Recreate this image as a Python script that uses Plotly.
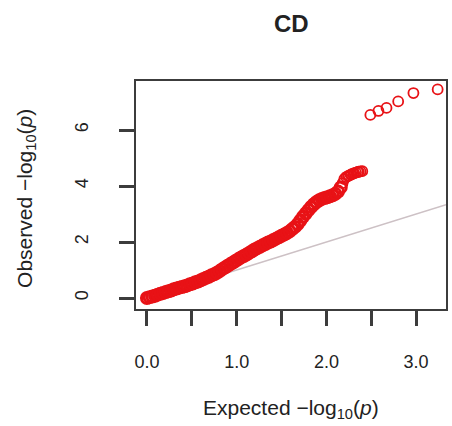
import plotly.graph_objects as go

# Q-Q plot of association p-values for CD
# bulk of the SNPs: a dense band of overlapping points
expected_bulk = [
    0.00, 0.03, 0.06, 0.09, 0.12, 0.15, 0.18, 0.21, 0.24, 0.27,
    0.30, 0.33, 0.36, 0.39, 0.42, 0.45, 0.48, 0.51, 0.54, 0.57,
    0.60, 0.63, 0.66, 0.69, 0.72, 0.75, 0.78, 0.81, 0.84, 0.87,
    0.90, 0.93, 0.96, 0.99, 1.02, 1.05, 1.08, 1.11, 1.14, 1.17,
    1.20, 1.23, 1.26, 1.29, 1.32, 1.35, 1.38, 1.41, 1.44, 1.47,
    1.50, 1.53, 1.56, 1.59, 1.62, 1.65, 1.68, 1.71, 1.74, 1.77,
    1.80, 1.83, 1.86, 1.89, 1.92, 1.95, 1.98, 2.01, 2.04, 2.07,
    2.10, 2.13, 2.16,
]
observed_bulk = [
    0.00, 0.03, 0.05, 0.08, 0.12, 0.15, 0.18, 0.21, 0.24, 0.27,
    0.31, 0.34, 0.37, 0.39, 0.42, 0.45, 0.49, 0.52, 0.56, 0.59,
    0.63, 0.68, 0.72, 0.76, 0.81, 0.85, 0.90, 0.96, 1.03, 1.09,
    1.15, 1.21, 1.27, 1.33, 1.39, 1.45, 1.50, 1.55, 1.61, 1.67,
    1.73, 1.78, 1.83, 1.88, 1.93, 1.98, 2.02, 2.07, 2.12, 2.17,
    2.22, 2.27, 2.32, 2.38, 2.46, 2.54, 2.64, 2.77, 2.90, 3.02,
    3.14, 3.25, 3.35, 3.43, 3.49, 3.54, 3.57, 3.60, 3.63, 3.67,
    3.72, 3.80, 3.95,
]
# the tail: points that start to stand apart
expected_tail = [2.18, 2.20, 2.22, 2.24, 2.25, 2.27, 2.28, 2.30, 2.31,
                 2.33, 2.35, 2.36, 2.38, 2.40,
                 2.49, 2.58, 2.67, 2.80, 2.97, 3.24]
observed_tail = [4.10, 4.25, 4.32, 4.35, 4.37, 4.40, 4.42, 4.44, 4.46,
                 4.48, 4.50, 4.51, 4.52, 4.53,
                 6.54, 6.68, 6.79, 7.02, 7.32, 7.45]

x_range = [-0.122, 3.333]
y_range = [-0.393, 7.75]
x_tickvals = [0.0, 1.0, 2.0, 3.0]
x_ticktext = ["0.0", "1.0", "2.0", "3.0"]
x_minor_tickvals = [0.5, 1.5, 2.5]
y_tickvals = [0, 2, 4, 6]
y_ticktext = ["0", "2", "4", "6"]

title_text = "<b>CD</b>"
x_title = "Expected \u2212log<sub>10</sub>(<i>p</i>)"
y_title = "Observed \u2212log<sub>10</sub>(<i>p</i>)"

FONT = "Liberation Sans, Arial, sans-serif"
AXIS_COLOR = "#3c3c3c"
RED = "rgb(232,18,22)"

fig = go.Figure()

# reference line y = x from the origin to the right edge
fig.add_trace(go.Scatter(
    x=[0, x_range[1]], y=[0, x_range[1]], mode="lines",
    line=dict(color="rgb(205,193,197)", width=1.6),
    hoverinfo="skip", showlegend=False,
))

fig.add_trace(go.Scatter(
    x=expected_bulk, y=observed_bulk, mode="markers",
    marker=dict(symbol="circle-open", size=11, color=RED,
                line=dict(width=3, color=RED)),
    showlegend=False,
))
fig.add_trace(go.Scatter(
    x=expected_tail, y=observed_tail, mode="markers",
    marker=dict(symbol="circle-open", size=10, color=RED,
                line=dict(width=1.8, color=RED)),
    showlegend=False,
))

axis_common = dict(
    showgrid=False, zeroline=False,
    showline=True, mirror=True, linecolor=AXIS_COLOR, linewidth=2,
    ticks="outside", ticklen=15, tickwidth=2.5, tickcolor=AXIS_COLOR,
    tickfont=dict(family=FONT, size=18, color="#222"),
)

fig.update_xaxes(range=x_range, tickmode="array", tickvals=x_tickvals,
                 ticktext=x_ticktext, ticklabelstandoff=20,
                 minor=dict(tickmode="array", tickvals=x_minor_tickvals,
                            ticks="outside", ticklen=15, tickwidth=2.5,
                            tickcolor=AXIS_COLOR, showgrid=False),
                 **axis_common)
fig.update_yaxes(range=y_range, tickmode="array", tickvals=y_tickvals,
                 ticktext=y_ticktext, tickangle=-90, ticklabelstandoff=24,
                 **axis_common)

fig.add_annotation(text=title_text, xref="paper", yref="paper",
                   x=0.5, y=(309 - 23) / 228, xanchor="center", yanchor="middle",
                   showarrow=False, font=dict(family=FONT, size=24, color="#222"))
fig.add_annotation(text=x_title, xref="paper", yref="paper",
                   x=0.5, y=-0.44, xanchor="center", yanchor="middle",
                   showarrow=False, font=dict(family=FONT, size=21, color="#222"))
fig.add_annotation(text=y_title, xref="paper", yref="paper",
                   x=-0.355, y=0.487, xanchor="center", yanchor="middle",
                   textangle=-90,
                   showarrow=False, font=dict(family=FONT, size=21, color="#222"))

fig.update_layout(
    width=452, height=426,
    margin=dict(l=136, r=4, t=81, b=117),
    plot_bgcolor="white", paper_bgcolor="white",
)

fig.write_html("out.html")
